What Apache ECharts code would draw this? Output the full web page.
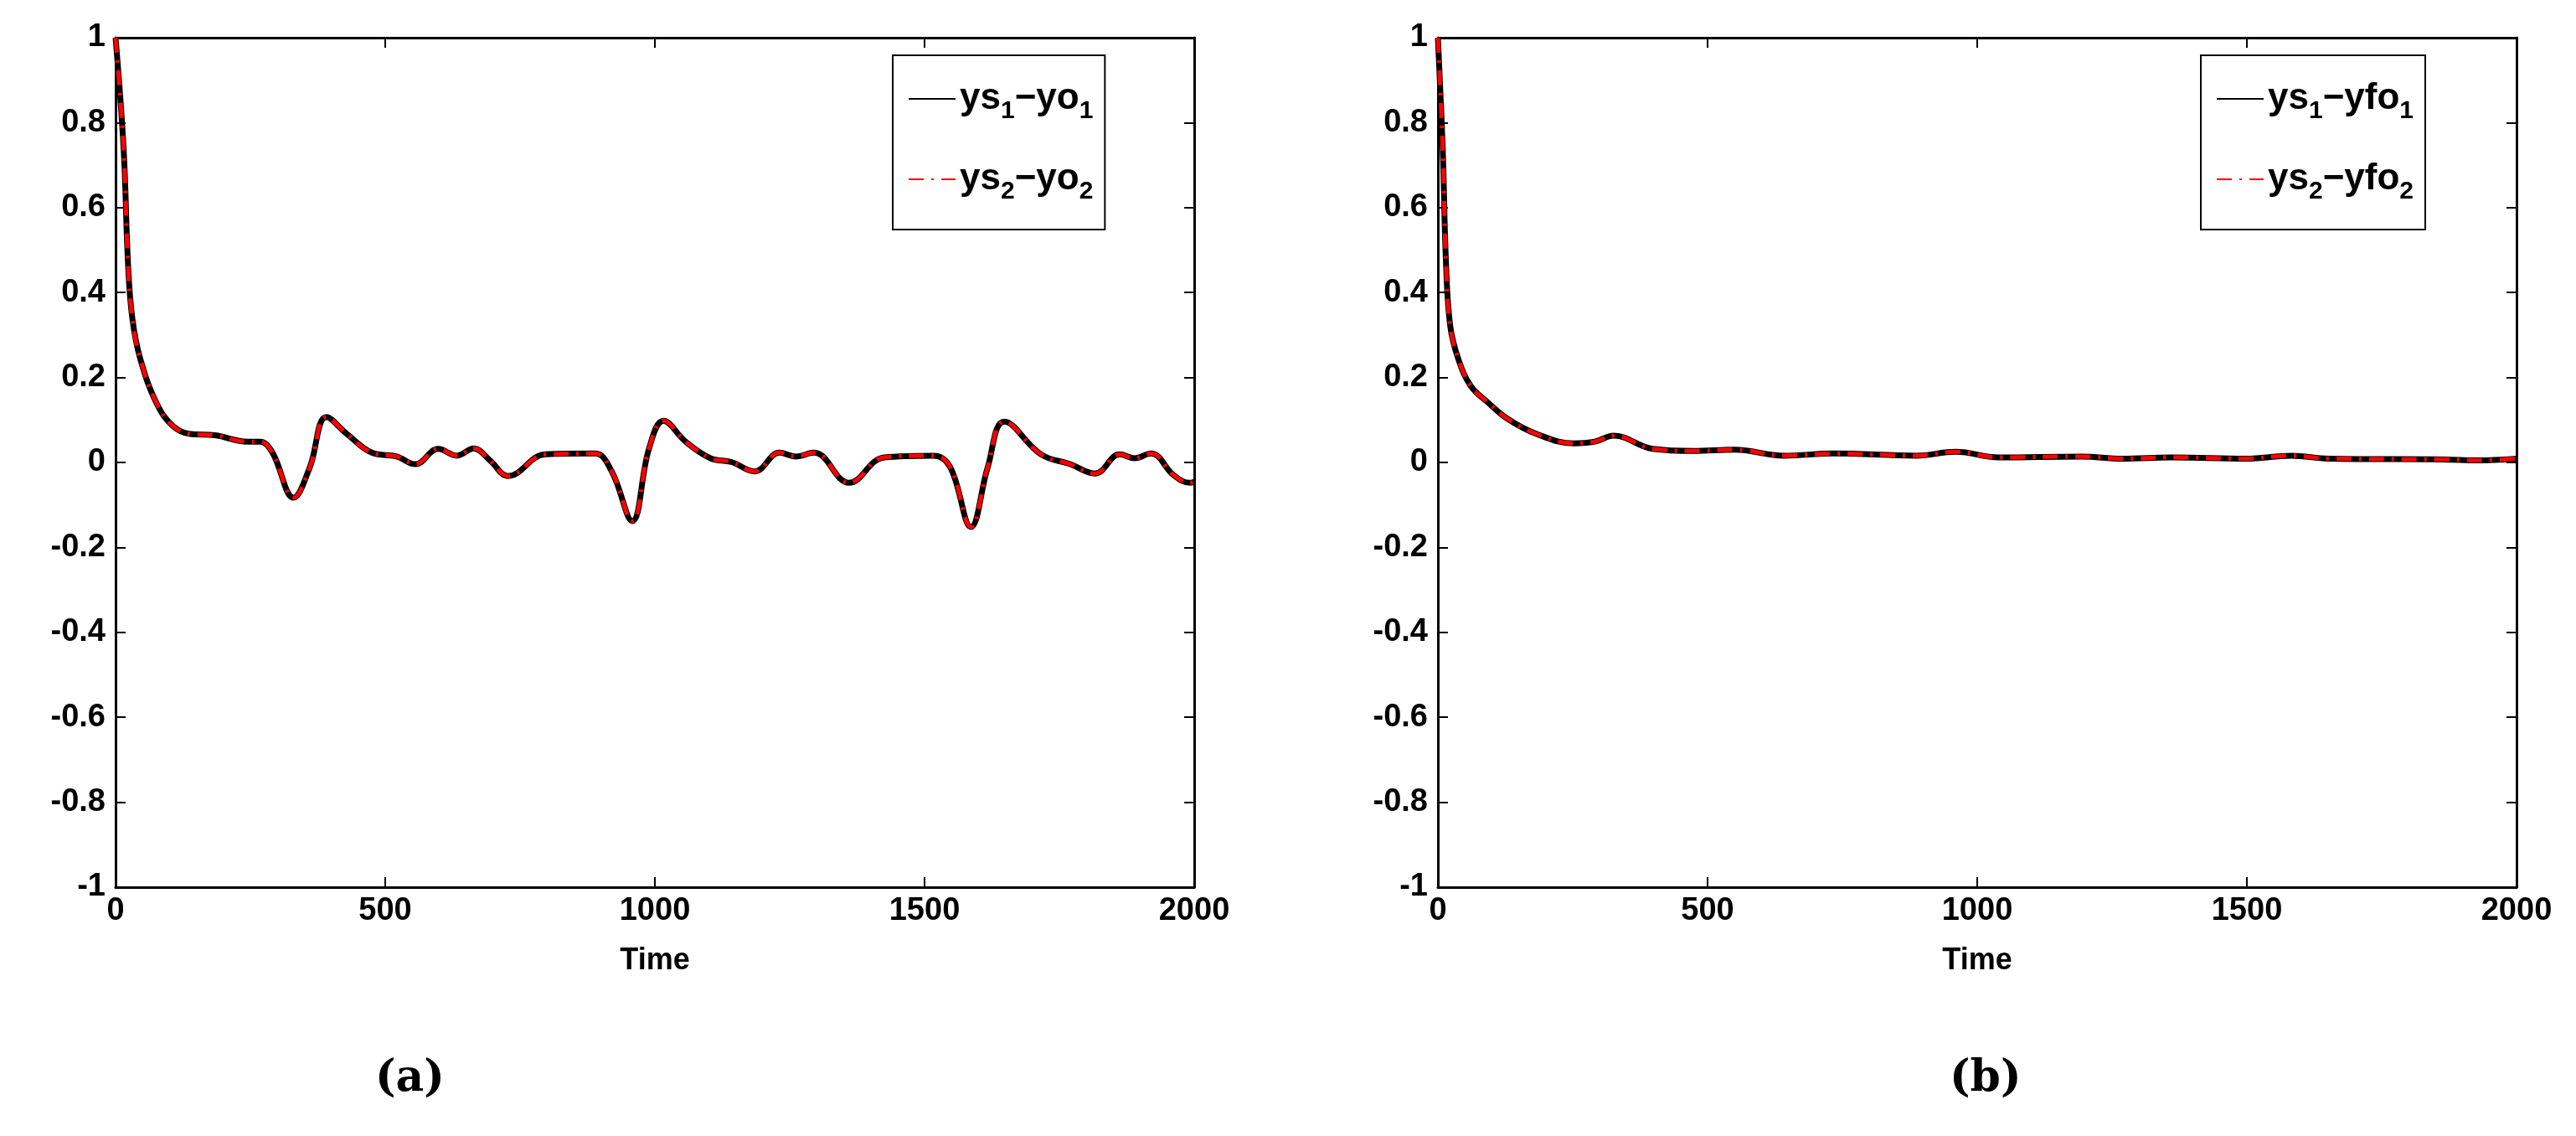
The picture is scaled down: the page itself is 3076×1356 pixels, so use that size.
<!DOCTYPE html>
<html>
<head>
	<meta charset="utf-8" />
	<title>ys - yo</title>
	<script src="https://cdn.jsdelivr.net/npm/echarts@6/dist/echarts.min.js"></script>
	<style>
		html, body { margin: 0; padding: 0; background: #fff; }
		#chart { width: 3076px; height: 1356px; }
	</style>
</head>
<body>
	<div id="chart"></div>
<script type="text/javascript">
	// panel (a): ys - yo as [time, value]
	var dataA = [
		[0, 1], [15, 0.737], [23, 0.47], [31, 0.34], [46, 0.243], [77, 0.137], [107, 0.085],
		[138, 0.067], [184, 0.064], [245, 0.049], [268, 0.049], [291, 0.023], [330, -0.083],
		[360, -0.012], [391, 0.107], [429, 0.067], [475, 0.023], [521, 0.014], [556, -0.004],
		[598, 0.032], [633, 0.016], [664, 0.033], [694, 0.005], [728, -0.032], [797, 0.019],
		[889, 0.021], [920, -0.021], [958, -0.138], [989, 0.032], [1016, 0.098], [1057, 0.049],
		[1103, 0.01], [1142, 0.001], [1185, -0.021], [1231, 0.023], [1261, 0.014], [1295, 0.023],
		[1360, -0.048], [1425, 0.012], [1517, 0.016], [1548, -0.012], [1586, -0.152], [1617, -0.012],
		[1648, 0.096], [1716, 0.019], [1770, -0.004], [1816, -0.026], [1862, 0.019], [1889, 0.01],
		[1920, 0.021], [1962, -0.03], [1992, -0.048], [2000, -0.045]
	];
	// panel (b): ys - yfo
	var dataB = [
		[0, 1], [9, 0.737], [15, 0.47], [23, 0.32], [38, 0.243], [61, 0.18], [92, 0.142],
		[130, 0.102], [183, 0.067], [252, 0.045], [291, 0.049], [326, 0.063], [398, 0.032],
		[474, 0.027], [550, 0.03], [642, 0.016], [734, 0.021], [887, 0.016], [960, 0.025],
		[1040, 0.012], [1193, 0.014], [1269, 0.009], [1361, 0.012], [1498, 0.009], [1583, 0.016],
		[1651, 0.009], [1865, 0.007], [1927, 0.005], [2000, 0.009]
	];
	var namesA = ['ys1-yo1', 'ys2-yo2'];
	var namesB = ['ys1-yfo1', 'ys2-yfo2'];
	var panelLabels = ['(a)', '(b)'];

	var font = 'Liberation Sans';
	var grids = [
		{ left: 138, width: 1288, top: 45, height: 1014 },
		{ left: 1717, width: 1288, top: 45, height: 1014 }
	];

	function xAx(g, pos, shown) {
		return {
			type: 'value', gridIndex: g, position: pos, min: 0, max: 2000, interval: 500,
			name: shown ? 'Time' : '', nameLocation: 'middle', nameGap: 70,
			nameTextStyle: { fontFamily: font, fontWeight: 'bold', fontSize: 36, color: '#000' },
			axisLine: { show: true, onZero: false, lineStyle: { color: '#000', width: 3 } },
			axisTick: { show: true, inside: true, length: 12, lineStyle: { color: '#000', width: 2 } },
			axisLabel: { show: shown, fontFamily: font, fontWeight: 'bold', fontSize: 38, color: '#000', margin: 10,
				formatter: function (v) { return String(v); } },
			splitLine: { show: false }
		};
	}
	function yAx(g, pos, shown) {
		return {
			type: 'value', gridIndex: g, position: pos, min: -1, max: 1, interval: 0.2,
			axisLine: { show: true, onZero: false, lineStyle: { color: '#000', width: 3 } },
			axisTick: { show: true, inside: true, length: 12, lineStyle: { color: '#000', width: 2 } },
			axisLabel: { show: shown, fontFamily: font, fontWeight: 'bold', fontSize: 38, color: '#000', margin: 12,
				formatter: function (v) { return Math.round(v * 10) / 10 + ''; } },
			splitLine: { show: false }
		};
	}

	function pair(names, data, g) {
		return [
			{ name: names[0], type: 'line', xAxisIndex: g * 2, yAxisIndex: g * 2, data: data,
				smooth: 0.4, symbol: 'none', lineStyle: { color: '#000', width: 7 }, itemStyle: { color: '#000' } },
			{ name: names[1], type: 'line', xAxisIndex: g * 2, yAxisIndex: g * 2, data: data,
				smooth: 0.4, symbol: 'none', lineStyle: { color: '#ff0000', width: 5, type: [18, 9, 3, 9] }, itemStyle: { color: '#ff0000' } }
		];
	}

	var rich = {
		n: { fontFamily: font, fontWeight: 'bold', fontSize: 44, color: '#000' },
		s: { fontFamily: font, fontWeight: 'bold', fontSize: 30, color: '#000', padding: [30, 0, 0, 0] }
	};
	function fmt(name) {
		var m = name.match(/^(ys)(\d)-(\w+?)(\d)$/);
		return '{n|' + m[1] + '}{s|' + m[2] + '}{n|\u2212' + m[3] + '}{s|' + m[4] + '}';
	}
	function legend(names, left) {
		return {
			data: names, orient: 'vertical', left: left, top: 66,
			backgroundColor: '#fff', borderColor: '#000', borderWidth: 2, padding: [30, 14, 30, 18],
			itemWidth: 56, itemHeight: 14, itemGap: 44,
			itemStyle: { opacity: 0 },
			formatter: fmt, textStyle: { rich: rich }
		};
	}

	var chart = echarts.init(document.getElementById('chart'));
	chart.setOption({
		backgroundColor: '#fff',
		animation: false,
		grid: grids,
		xAxis: [xAx(0, 'bottom', true), xAx(0, 'top', false), xAx(1, 'bottom', true), xAx(1, 'top', false)],
		yAxis: [yAx(0, 'left', true), yAx(0, 'right', false), yAx(1, 'left', true), yAx(1, 'right', false)],
		legend: [legend(namesA, 1066), legend(namesB, 2628)],
		series: pair(namesA, dataA, 0).concat(pair(namesB, dataB, 1)),
		graphic: [
			{ type: 'text', left: 448, top: 1262, style: { text: panelLabels[0], fontFamily: 'DejaVu Serif', fontWeight: 'bold', fontSize: 52, fill: '#000' } },
			{ type: 'text', left: 2328, top: 1262, style: { text: panelLabels[1], fontFamily: 'DejaVu Serif', fontWeight: 'bold', fontSize: 52, fill: '#000' } }
		]
	});
</script>
</body>
</html>
